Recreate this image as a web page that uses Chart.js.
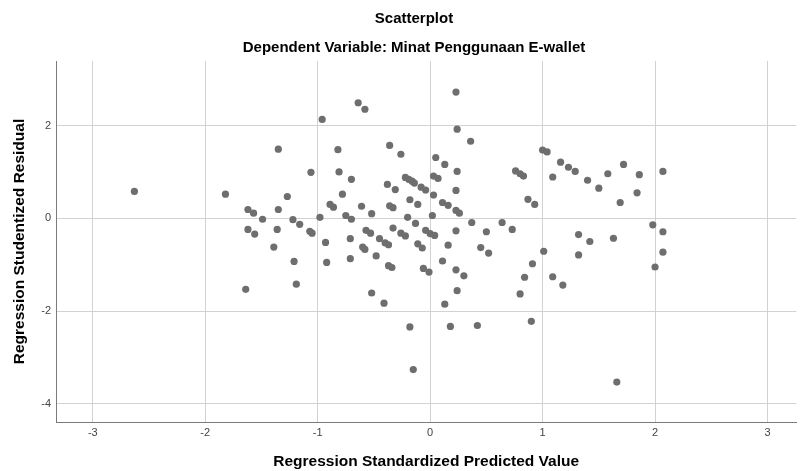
<!DOCTYPE html>
<html>
<head>
<meta charset="utf-8">
<style>
html,body{margin:0;padding:0;background:#ffffff;}
#wrap{width:800px;height:471px;position:relative;}
</style>
</head>
<body>
<div id="wrap"><canvas id="c"></canvas></div>
<script src="https://cdn.jsdelivr.net/npm/chart.js@4/dist/chart.umd.min.js"></script>
<script>
const titleText = 'Scatterplot';
const subtitleText = 'Dependent Variable: Minat Penggunaan E-wallet';
const xAxisTitle = 'Regression Standardized Predicted Value';
const yAxisTitle = 'Regression Studentized Residual';

const xTicks = [-3, -2, -1, 0, 1, 2, 3];
const yTicks = [-4, -2, 0, 2];

const predicted = [
  -2.63, -1.82, -1.62, -1.57, -1.49, -1.62, -1.56, -1.64, -1.35, -1.27,
  -1.35, -1.22, -1.16, -1.36, -1.39, -1.21, -1.19, -1.06, -1.07, -1.05,
  -0.98, -0.96, -0.93, -0.92, -0.89, -0.86, -0.82, -0.81, -0.78, -0.75,
  -0.70, -0.71, -0.71, -0.70, -0.64, -0.58, -0.61, -0.57, -0.53, -0.60,
  -0.58, -0.52, -0.52, -0.48, -0.45, -0.41, -0.40, -0.37, -0.38, -0.36,
  -0.36, -0.33, -0.31, -0.37, -0.34, -0.33, -0.26, -0.26, -0.22, -0.22,
  -0.19, -0.16, -0.14, -0.20, -0.18, -0.18, -0.15, -0.13, -0.11, -0.11,
  -0.07, -0.08, -0.04, -0.04, 0.00, 0.04, -0.06, -0.01, 0.02, 0.03,
  0.03, 0.07, 0.05, 0.13, 0.11, 0.16, 0.11, 0.16, 0.13, 0.18,
  0.23, 0.24, 0.36, 0.24, 0.23, 0.23, 0.26, 0.23, 0.23, 0.30,
  0.24, 0.37, 0.42, 0.45, 0.52, 0.50, 0.64, 0.73, 0.76, 0.80,
  0.83, 0.87, 0.93, 0.80, 0.84, 0.90, 0.91, 1.01, 1.00, 1.04,
  1.09, 1.09, 1.16, 1.18, 1.23, 1.29, 1.32, 1.32, 1.40, 1.42,
  1.50, 1.58, 1.63, 1.66, 1.69, 1.72, 1.84, 1.86, 1.98, 2.00,
  2.07, 2.07, 2.07
];

const residual = [
  0.58, 0.52, 0.19, 0.11, -0.02, -0.24, -0.34, -1.53, 1.49, 0.47,
  0.19, -0.03, -0.13, -0.24, -0.62, -0.93, -1.42, 0.99, -0.28, -0.32,
  0.02, 2.13, -0.52, -0.95, 0.30, 0.24, 1.48, 1.00, 0.52, 0.06,
  -0.02, -0.44, -0.87, 0.84, 2.49, 2.35, 0.26, -0.26, -0.32, -0.62,
  -0.67, 0.10, -1.61, -0.81, -0.44, -1.83, -0.53, -0.57, 0.73, 1.57,
  0.27, 0.23, 0.62, -1.02, -1.06, -0.21, 1.38, -0.32, -0.38, 0.88,
  0.84, 0.80, 0.76, 0.02, 0.40, -2.34, -3.26, -0.11, 0.30, -0.55,
  -0.64, 0.67, 0.61, -0.26, -0.33, -0.37, -1.08, -1.16, 0.06, 0.50,
  0.91, 0.86, 1.31, 1.16, 0.34, 0.28, -0.92, -0.58, -1.85, -2.33,
  2.72, 1.92, 1.66, 1.01, 0.60, 0.17, 0.11, -0.27, -1.11, -1.24,
  -1.56, -0.09, -2.31, -0.63, -0.75, -0.29, -0.09, -0.24, 1.02, 0.96,
  0.91, 0.41, 0.30, -1.63, -1.27, -2.22, -0.98, -0.71, 1.47, 1.43,
  0.89, -1.26, 1.21, -1.44, 1.10, 1.01, -0.35, -0.79, 0.82, -0.50,
  0.65, 0.96, -0.43, -3.53, 0.34, 1.16, 0.55, 0.94, -0.14, -1.05,
  1.01, -0.29, -0.73
];

const points = predicted.map((x, i) => ({ x: x, y: residual[i] }));

const titlePlugin = {
  id: 'spssTitles',
  afterDraw(chart) {
    const ctx = chart.ctx;
    ctx.save();
    ctx.fillStyle = '#000000';
    ctx.textAlign = 'center';
    ctx.textBaseline = 'middle';
    ctx.font = 'bold 15px "Liberation Sans", Arial, sans-serif';
    ctx.fillText(titleText, 414, 19);
    ctx.fillText(subtitleText, 414, 48);
    ctx.restore();
  }
};

new Chart(document.getElementById('c'), {
  type: 'scatter',
  data: {
    datasets: [{
      data: points,
      backgroundColor: '#6e6e6e',
      borderWidth: 0,
      pointRadius: 3.6,
      pointHoverRadius: 3.6
    }]
  },
  options: {
    responsive: true,
    maintainAspectRatio: false,
    animation: false,
    devicePixelRatio: 1,
    layout: { padding: { top: 61, left: 0, right: 0, bottom: 0 } },
    plugins: {
      legend: { display: false },
      tooltip: { enabled: false },
      title: { display: false }
    },
    scales: {
      x: {
        type: 'linear',
        min: -3.327,
        max: 3.257,
        afterFit(s) { s.height = 49; },
        afterBuildTicks(s) { s.ticks = xTicks.map(v => ({ value: v })); },
        ticks: {
          stepSize: 1,
          includeBounds: false,
          padding: 4,
          color: '#444444',
          font: { family: '"Liberation Sans", Arial, sans-serif', size: 11 }
        },
        grid: { color: '#d2d2d2', lineWidth: 1, drawTicks: false },
        border: { display: true, color: '#7a7a7a', width: 1 },
        title: {
          display: true,
          text: xAxisTitle,
          color: '#000000',
          font: { family: '"Liberation Sans", Arial, sans-serif', size: 15.5, weight: 'bold' },
          padding: { top: 0, bottom: 0 }
        }
      },
      y: {
        type: 'linear',
        min: -4.39,
        max: 3.39,
        afterFit(s) { s.width = 56; },
        afterBuildTicks(s) { s.ticks = yTicks.map(v => ({ value: v })); },
        ticks: {
          stepSize: 2,
          includeBounds: false,
          padding: 5,
          color: '#444444',
          font: { family: '"Liberation Sans", Arial, sans-serif', size: 11 }
        },
        grid: { color: '#d2d2d2', lineWidth: 1, drawTicks: false },
        border: { display: true, color: '#7a7a7a', width: 1 },
        title: {
          display: true,
          text: yAxisTitle,
          color: '#000000',
          font: { family: '"Liberation Sans", Arial, sans-serif', size: 15.5, weight: 'bold' },
          padding: { top: 10, bottom: 0 }
        }
      }
    }
  },
  plugins: [titlePlugin]
});
</script>
</body>
</html>
